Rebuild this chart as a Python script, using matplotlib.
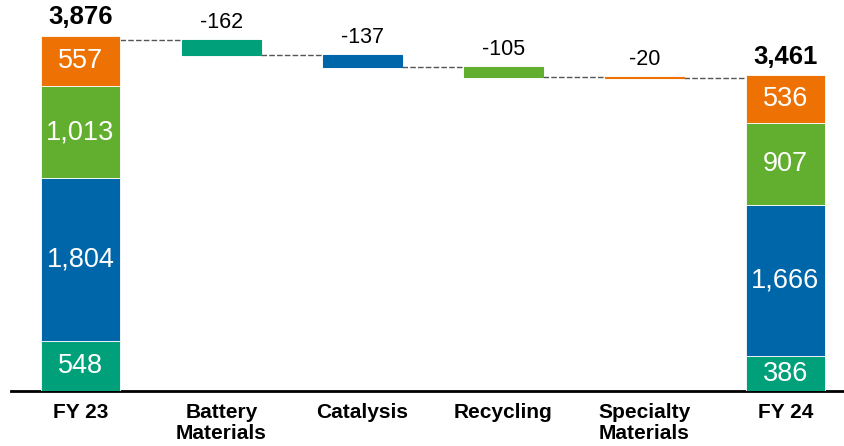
"""
    Waterfall chart: FY 23 -> FY 24 by business segment
"""
import matplotlib.pyplot as plt

# Data
categories = ['FY 23', 'Battery\nMaterials', 'Catalysis', 'Recycling', 'Specialty\nMaterials', 'FY 24']
fy23_parts = [548, 1804, 1013, 557]
fy24_parts = [386, 1666, 907, 536]
changes = [-162, -137, -105, -20]
totals = [3876, 3461]

# one colour per segment (bottom -> top of the stacks, same order as changes)
colors = ['#00A07A', '#0066AA', '#62AE2E', '#ED7203']

plt.rcParams['font.family'] = ['Liberation Sans', 'DejaVu Sans']

fig = plt.figure(figsize=(8.44, 4.46), dpi=100)
ax = fig.add_axes([11 / 844, 55 / 446, 833 / 844, 391 / 446])

width = 0.56
dash = (0, (4, 1.6))


def stacked(x, parts):
    bottom = 0
    for val, col in zip(parts, colors):
        ax.bar(x, val, width, bottom=bottom, color=col, edgecolor='white', linewidth=0.6, zorder=3)
        ax.text(x, bottom + val / 2, f'{val:,}', ha='center', va='center',
                color='white', fontsize=19.5, zorder=4)
        bottom += val
    return bottom


# FY 23 stack
top = stacked(0, fy23_parts)
ax.annotate(f'{totals[0]:,}', (0, top), xytext=(0, 5), textcoords='offset points',
            ha='center', va='bottom', fontsize=18.5, fontweight='bold')

# bridge bars
level = totals[0]
prev_right = 0 + width / 2
for i, (chg, col) in enumerate(zip(changes, colors), start=1):
    new_level = level + chg
    ax.plot([prev_right, i - width / 2], [level, level], ls=dash, color='#555555', lw=1, zorder=2)
    ax.bar(i, -chg, width, bottom=new_level, color=col, edgecolor=col, linewidth=0.8, zorder=3)
    ax.annotate(f'{chg}', (i, level), xytext=(0, 5), textcoords='offset points',
                ha='center', va='bottom', fontsize=15.5)
    level = new_level
    prev_right = i + width / 2

# FY 24 stack
last = len(categories) - 1
ax.plot([prev_right, last - width / 2], [level, level], ls=dash, color='#555555', lw=1, zorder=2)
top = stacked(last, fy24_parts)
ax.annotate(f'{totals[1]:,}', (last, top), xytext=(0, 4), textcoords='offset points',
            ha='center', va='bottom', fontsize=18.5, fontweight='bold')

# axis styling
ax.set_xlim(-0.493, 5.415)
ax.set_ylim(0, 4318)
for s in ['top', 'right', 'left']:
    ax.spines[s].set_visible(False)
ax.spines['bottom'].set_linewidth(2)
ax.set_yticks([])
ax.set_xticks(range(len(categories)))
ax.set_xticklabels(categories, fontsize=15, fontweight='bold', linespacing=1.1,
                   va='top', multialignment='center')
ax.tick_params(axis='x', length=0, pad=9)

plt.savefig('out.png', dpi=100)
